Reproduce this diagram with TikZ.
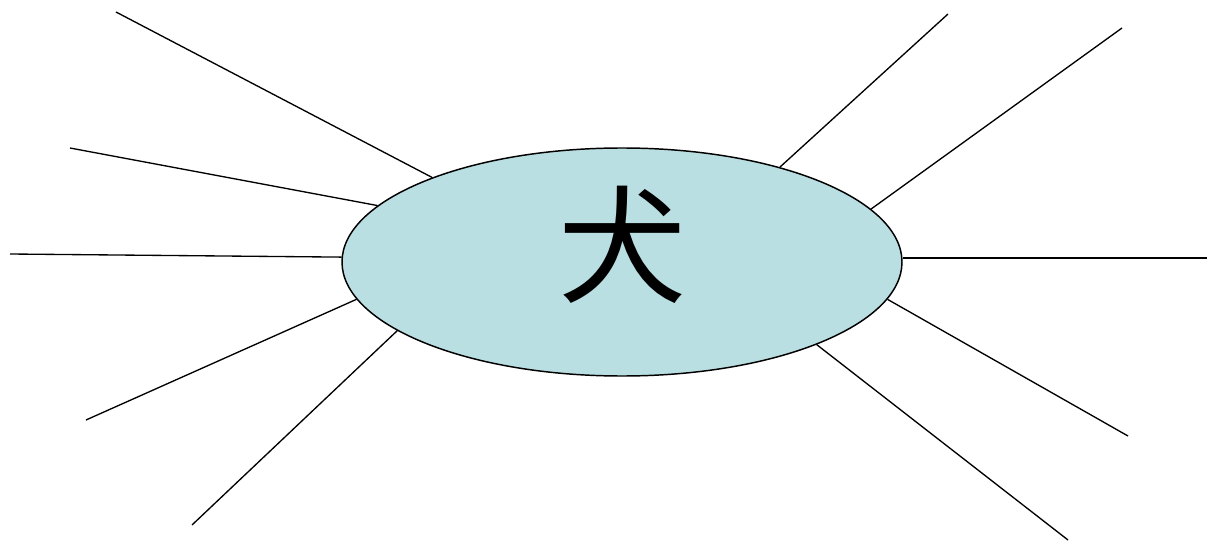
\documentclass[tikz,border=0pt]{standalone}
\usepackage{fontspec}
\usetikzlibrary{shapes.geometric}
\newfontfamily\cjk{Noto Sans CJK JP}
\definecolor{inublue}{HTML}{BADFE3}

\begin{document}
\begin{tikzpicture}[
    x=0.75pt, y=-0.75pt,
    spoke/.style={line width=1pt}, % Style for the radiating lines
    centre/.style={ellipse, draw, line width=1.1pt, fill=inublue, inner sep=0pt,
        minimum width=420pt, minimum height=171pt}
]
    \useasboundingbox (0,0) rectangle (1207,542);

    % Central ellipse and its character
    \node[centre] (inu) at (622,262) {};
    \node[inner sep=0pt, font=\cjk\fontsize{96}{96}\selectfont] (kanji) at (622,245) {犬};

    % Outer ends of the lines
    \coordinate (l1) at (116,12);
    \coordinate (l2) at (70,148);
    \coordinate (l3) at (10,254);
    \coordinate (l4) at (86,420);
    \coordinate (l5) at (192,525);
    \coordinate (r1) at (948,14);
    \coordinate (r2) at (1122,28);
    \coordinate (r3) at (1207,258);
    \coordinate (r4) at (1128,436);
    \coordinate (r5) at (1068,540);

    % Lines from the ellipse
    \draw[spoke] (inu.156) -- (l1);
    \draw[spoke] (inu.167.8) -- (l2);
    \draw[spoke] (inu.179.2) -- (l3);
    \draw[spoke] (inu.188.1) -- (l4);
    \draw[spoke] (inu.197.3) -- (l5);
    \draw[spoke] (inu.31.8) -- (r1);
    \draw[spoke] (inu.12.6) -- (r2);
    \draw[spoke] (inu.east |- r3) -- (r3);
    \draw[spoke] (inu.-8.2) -- (r4);
    \draw[spoke] (inu.-23.5) -- (r5);

\end{tikzpicture}
\end{document}
